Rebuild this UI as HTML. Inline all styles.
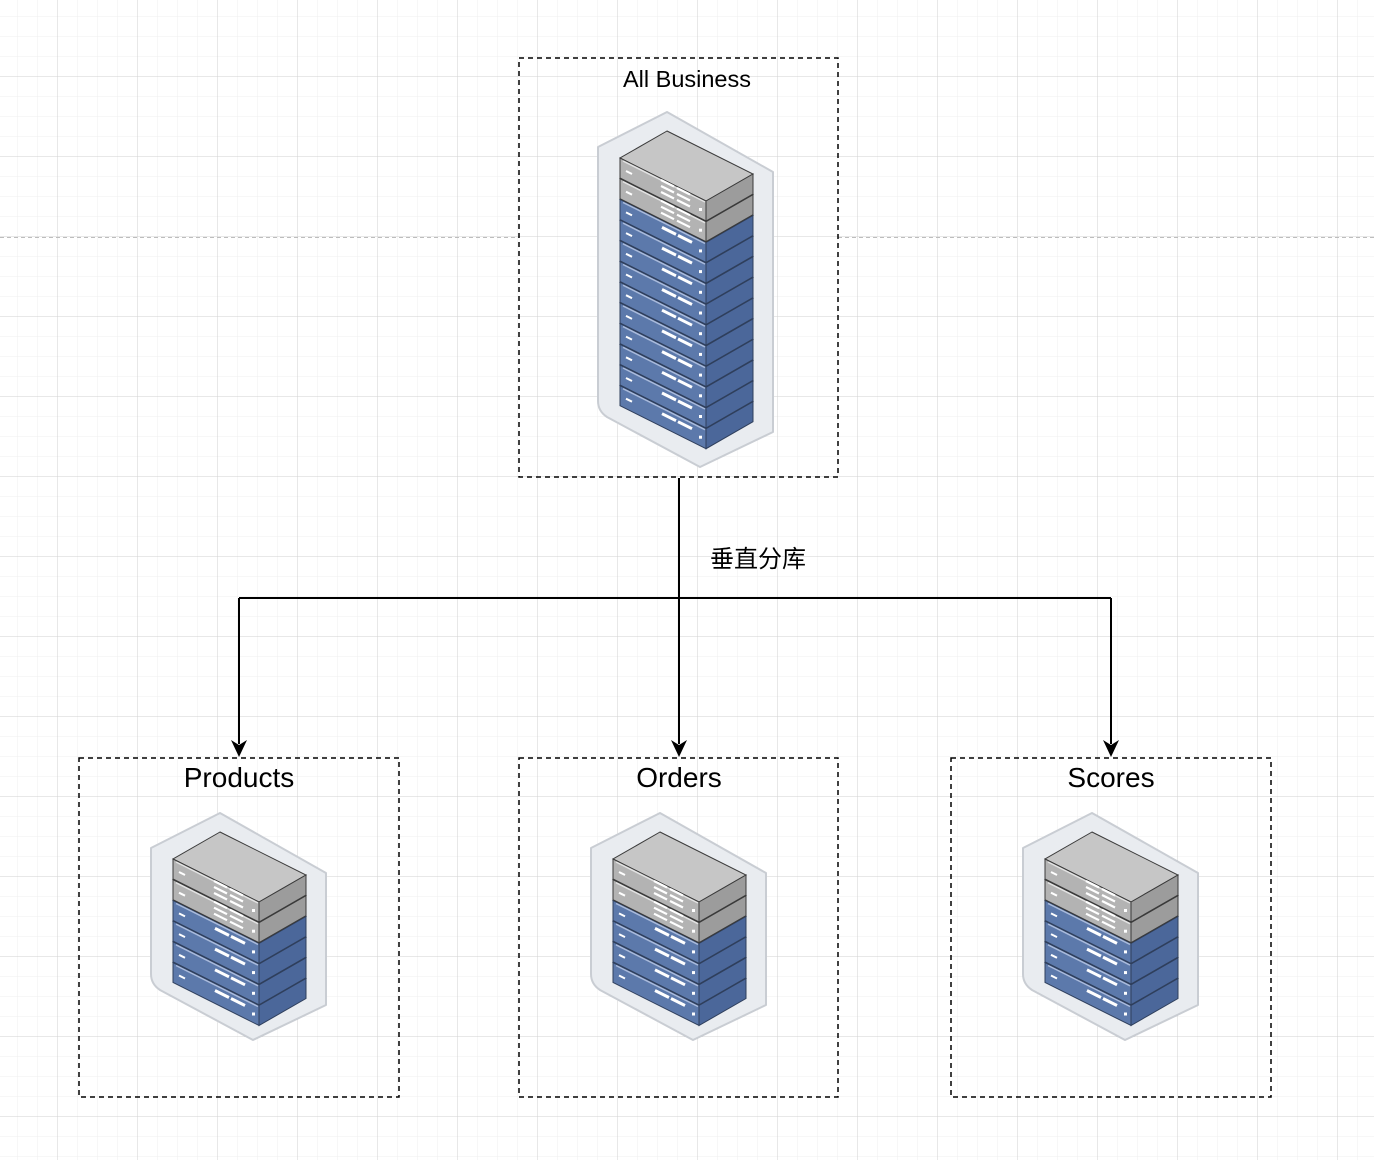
<!DOCTYPE html>
<html><head><meta charset="utf-8"><style>
html,body{margin:0;padding:0;background:#fff}
svg{display:block}
text{font-family:"Liberation Sans","Noto Sans CJK SC",sans-serif;fill:#000}
</style></head><body>
<svg width="1374" height="1160" viewBox="0 0 1374 1160" xmlns="http://www.w3.org/2000/svg">
<defs>
<pattern id="minor" x="-2" y="-3" width="20" height="20" patternUnits="userSpaceOnUse">
<path d="M20 0V20M0 20H20" stroke="#efefef" stroke-width="1" fill="none"/>
</pattern>
<pattern id="major" x="-22" y="-3" width="80" height="80" patternUnits="userSpaceOnUse">
<path d="M80 0V80M0 80H80" stroke="#d2d2d2" stroke-width="1" fill="none"/>
</pattern>
<g id="slabG">
<path d="M0 0L-47 27L39 70L86 43Z" fill="#c6c6c6" stroke="#3a3a3a" stroke-width="1"/>
<path d="M-47 27L39 70L39 90L-47 47Z" fill="#b3b3b3" stroke="#3a3a3a" stroke-width="1"/>
<path d="M39 70L86 43L86 63L39 90Z" fill="#9c9c9c" stroke="#3a3a3a" stroke-width="1"/>
<path d="M-44 30L38 71" stroke="#e2e2e2" stroke-width="1.5"/>
<path d="M-41 40L-35 43" stroke="#fff" stroke-width="2"/>
<path d="M-6 49L7 55.5M-6 55L7 61.5M-6 61L7 67.5M10 57L23 63.5M10 63L23 69.5M10 69L23 75.5" stroke="#fff" stroke-width="2.2"/>
<rect x="32" y="77" width="3" height="3" fill="#fff"/>
</g>
<g id="slabB">
<path d="M0 0L-47 27L39 70L86 43Z" fill="#7f96c0" stroke="#2f3f5c" stroke-width="1"/>
<path d="M-47 27L39 70L39 90L-47 47Z" fill="#5c79ab" stroke="#2f3f5c" stroke-width="1"/>
<path d="M39 70L86 43L86 63L39 90Z" fill="#4b679a" stroke="#2f3f5c" stroke-width="1"/>
<path d="M-44 30L38 71" stroke="#a9badb" stroke-width="1.5"/>
<path d="M-41 40L-35 43" stroke="#fff" stroke-width="2"/>
<path d="M-5 55L9 62M11 63L25 70" stroke="#fff" stroke-width="3"/>
<rect x="32" y="77" width="3" height="3" fill="#fff"/>
</g>
<g id="small">
<path d="M0 -19L106 41L106 173L33 208L-60 158Q-69 152 -69 142L-69 16Z" fill="#e9ecf0" stroke="#c9cdd3" stroke-width="2" stroke-linejoin="round"/>
<use href="#slabB" y="103.5"/>
<use href="#slabB" y="82.8"/>
<use href="#slabB" y="62.1"/>
<use href="#slabB" y="41.4"/>
<use href="#slabG" y="20.7"/>
<use href="#slabG" y="0"/>
</g>
</defs>
<rect width="1374" height="1160" fill="url(#minor)"/>
<rect width="1374" height="1160" fill="url(#major)"/>
<path d="M0 237.5H519M838 237.5H1374" stroke="#bdbdbd" stroke-dasharray="4 3" stroke-width="1"/>

<g transform="translate(667,131)">
<path d="M0 -19L106 41L106 301L33 336L-60 286Q-69 280 -69 270L-69 16Z" fill="#e9ecf0" stroke="#c9cdd3" stroke-width="2" stroke-linejoin="round"/>
<use href="#slabB" y="227.7"/>
<use href="#slabB" y="207"/>
<use href="#slabB" y="186.3"/>
<use href="#slabB" y="165.6"/>
<use href="#slabB" y="144.9"/>
<use href="#slabB" y="124.2"/>
<use href="#slabB" y="103.5"/>
<use href="#slabB" y="82.8"/>
<use href="#slabB" y="62.1"/>
<use href="#slabB" y="41.4"/>
<use href="#slabG" y="20.7"/>
<use href="#slabG" y="0"/>
</g>

<use href="#small" transform="translate(220,832)"/>
<use href="#small" transform="translate(660,832)"/>
<use href="#small" transform="translate(1092,832)"/>

<g fill="none" stroke="#000" stroke-width="1.5" stroke-dasharray="5 4">
<rect x="519" y="58" width="319" height="419"/>
<rect x="79" y="758" width="320" height="339"/>
<rect x="519" y="758" width="319" height="339"/>
<rect x="951" y="758" width="320" height="339"/>
</g>

<g fill="none" stroke="#000" stroke-width="2">
<path d="M679 478V744"/>
<path d="M239 598H1111"/>
<path d="M239 598V744"/>
<path d="M1111 598V744"/>
</g>
<path d="M671 740L679 757L687 740L679 745Z" fill="#000"/>
<path d="M231 740L239 757L247 740L239 745Z" fill="#000"/>
<path d="M1103 740L1111 757L1119 740L1111 745Z" fill="#000"/>

<text x="687" y="87" font-size="23.5" text-anchor="middle">All Business</text>
<text x="239" y="787" font-size="28" text-anchor="middle">Products</text>
<text x="679" y="787" font-size="28" text-anchor="middle">Orders</text>
<text x="1111" y="787" font-size="28" text-anchor="middle">Scores</text>
<text x="758" y="567" font-size="24" text-anchor="middle">垂直分库</text>
</svg>
</body></html>
